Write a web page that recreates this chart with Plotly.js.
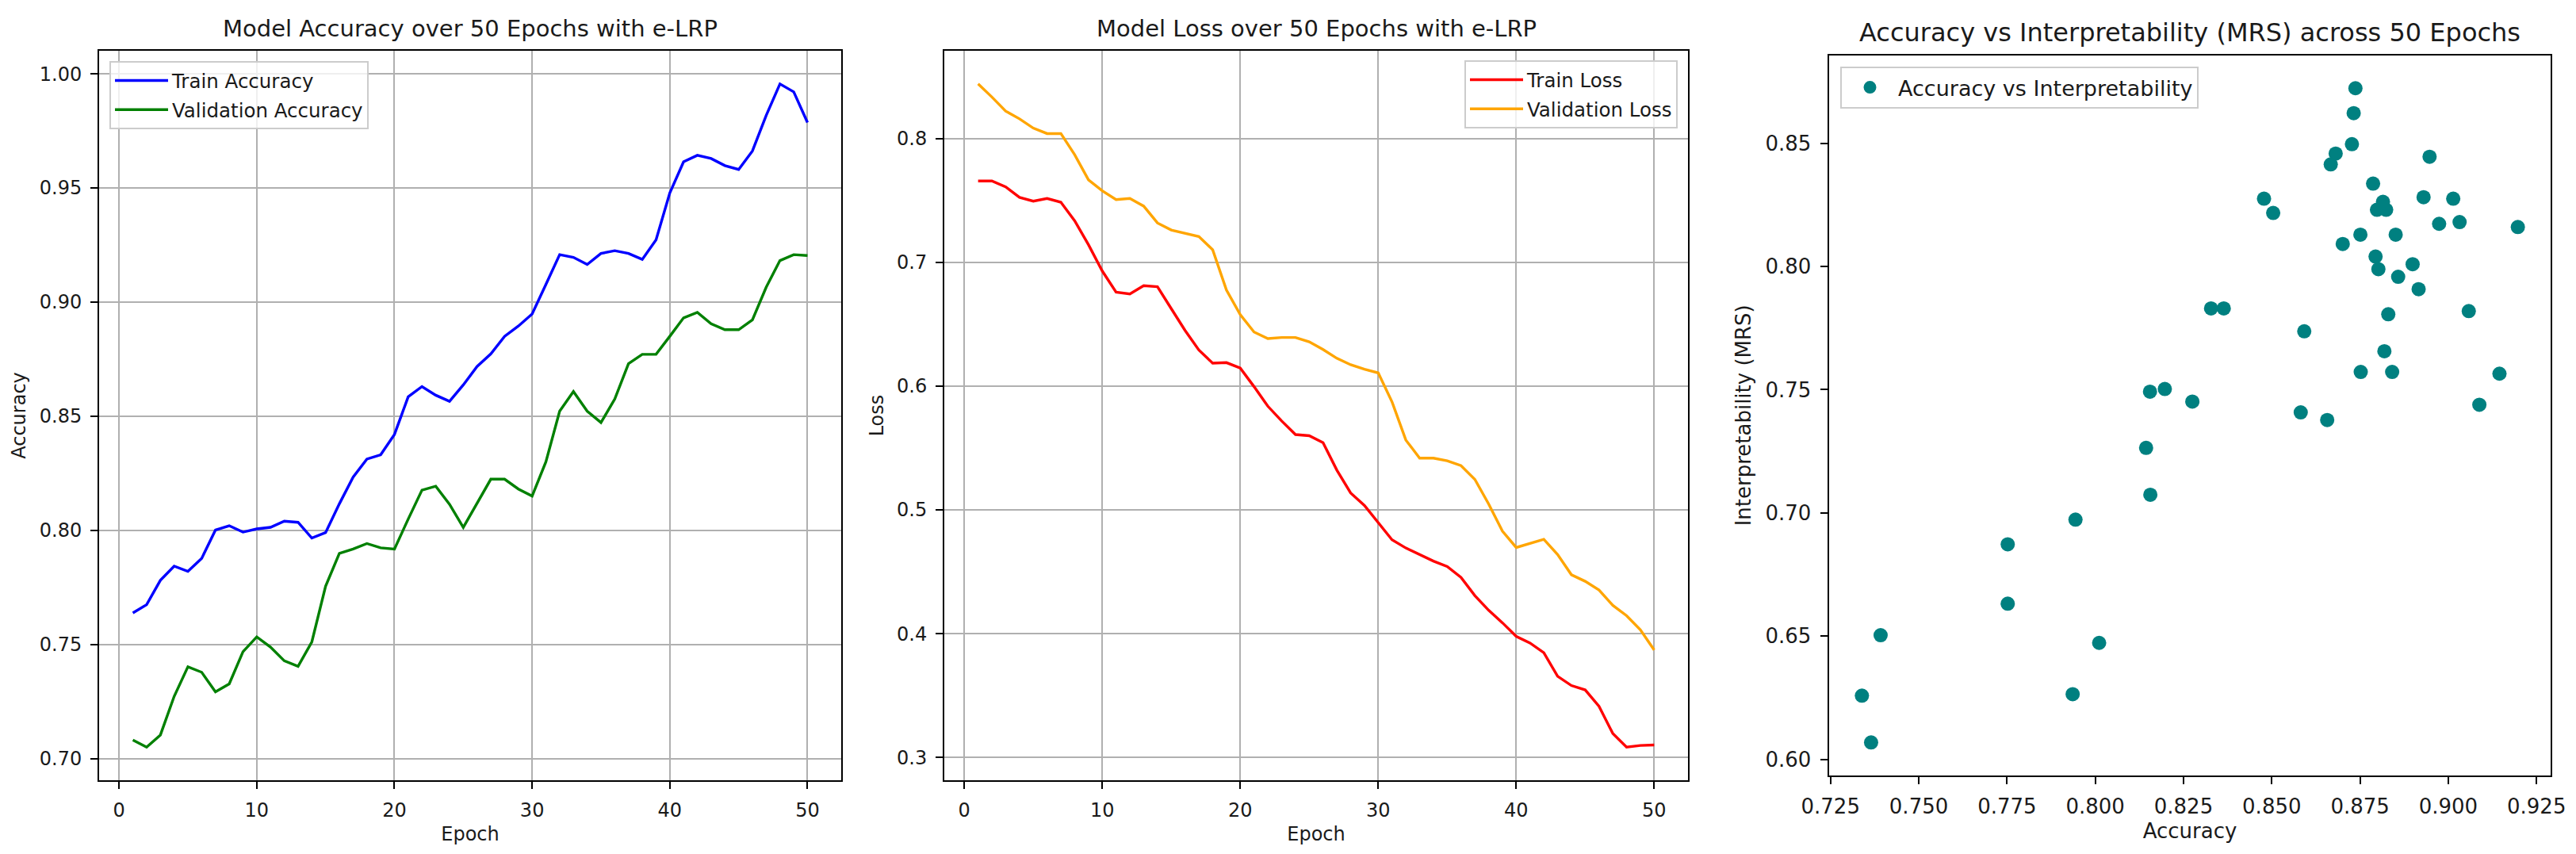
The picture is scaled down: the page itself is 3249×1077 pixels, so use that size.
<!DOCTYPE html>
<html>
<head>
<meta charset="utf-8">
<script src="https://cdn.plot.ly/plotly-3.0.1.min.js"></script>
<style>html,body{margin:0;padding:0;background:#fff;}#chart{width:3249px;height:1077px;}</style>
</head>
<body>
<div id="chart"></div>
<script>
const epochs = Array.from({length: 50}, (_, i) => i + 1);

const trainAccuracy = [0.7638,0.7674,0.7781,0.7843,0.7820,0.7877,0.8001,0.8020,0.7992,0.8006,
  0.8013,0.8040,0.8035,0.7966,0.7990,0.8116,0.8233,0.8312,0.8331,0.8420,
  0.8585,0.8630,0.8592,0.8565,0.8637,0.8718,0.8773,0.8850,0.8895,0.8948,
  0.9077,0.9208,0.9196,0.9165,0.9213,0.9225,0.9213,0.9187,0.9273,0.9478,
  0.9615,0.9643,0.9629,0.9598,0.9581,0.9662,0.9818,0.9956,0.9921,0.9787];

const valAccuracy = [0.7081,0.7050,0.7103,0.7272,0.7402,0.7378,0.7292,0.7327,0.7468,0.7533,
  0.7488,0.7428,0.7404,0.7511,0.7755,0.7899,0.7918,0.7942,0.7923,0.7918,
  0.8049,0.8176,0.8193,0.8114,0.8013,0.8121,0.8224,0.8224,0.8181,0.8150,
  0.8300,0.8522,0.8608,0.8522,0.8472,0.8575,0.8730,0.8771,0.8771,0.8850,
  0.8931,0.8955,0.8905,0.8879,0.8879,0.8922,0.9065,0.9182,0.9208,0.9204];

const trainLoss = [0.7656,0.7656,0.7608,0.7524,0.7493,0.7515,0.7484,0.7335,0.7141,0.6929,
  0.6758,0.6744,0.6810,0.6802,0.6625,0.6449,0.6291,0.6185,0.6189,0.6145,
  0.5995,0.5837,0.5718,0.5608,0.5599,0.5542,0.5321,0.5136,0.5035,0.4894,
  0.4758,0.4692,0.4639,0.4586,0.4542,0.4454,0.4308,0.4189,0.4088,0.3978,
  0.3925,0.3846,0.3656,0.3581,0.3546,0.3414,0.3194,0.3084,0.3097,0.3101];

const valLoss = [0.8440,0.8334,0.8220,0.8158,0.8083,0.8039,0.8039,0.7868,0.7665,0.7577,
  0.7506,0.7515,0.7453,0.7317,0.7260,0.7233,0.7207,0.7101,0.6775,0.6577,
  0.6436,0.6383,0.6392,0.6392,0.6357,0.6295,0.6224,0.6172,0.6136,0.6106,
  0.5872,0.5564,0.5418,0.5418,0.5396,0.5357,0.5247,0.5048,0.4828,0.4696,
  0.4727,0.4762,0.4639,0.4476,0.4423,0.4352,0.4229,0.4145,0.4031,0.3868];

const scatterAccuracy = [0.8737,0.8732,0.8727,0.8681,0.8667,0.8947,0.8787,0.8478,0.8504,0.8930,
  0.9014,0.8815,0.8798,0.8824,0.8974,0.9032,0.9197,0.8751,0.8851,0.8701,
  0.8794,0.8802,0.8899,0.8858,0.8916,0.8328,0.8364,0.8830,0.9058,0.8592,
  0.8819,0.8752,0.8841,0.9145,0.8155,0.8197,0.8275,0.8582,0.8657,0.9088,
  0.8144,0.8156,0.7944,0.7752,0.7752,0.7392,0.8011,0.7339,0.7936,0.7365];

const scatterMRS = [0.8723,0.8622,0.8496,0.8458,0.8414,0.8445,0.8336,0.8275,0.8217,0.8281,
  0.8275,0.8262,0.8230,0.8230,0.8173,0.8180,0.8160,0.8129,0.8129,0.8091,
  0.8040,0.7989,0.8009,0.7958,0.7908,0.7830,0.7830,0.7806,0.7819,0.7737,
  0.7656,0.7572,0.7572,0.7565,0.7492,0.7503,0.7452,0.7408,0.7377,0.7439,
  0.7264,0.7074,0.6973,0.6873,0.6632,0.6504,0.6473,0.6259,0.6265,0.6069];

const titles = ['Model Accuracy over 50 Epochs with e-LRP',
                'Model Loss over 50 Epochs with e-LRP',
                'Accuracy vs Interpretability (MRS) across 50 Epochs'];

// matplotlib-like 5% auto margins
function mplRange(arrs) {
  const all = [].concat(...arrs);
  const lo = Math.min(...all), hi = Math.max(...all);
  const m = (hi - lo) * 0.05;
  return [lo - m, hi + m];
}

const FONT = 'DejaVu Sans, Liberation Sans, sans-serif';
const TXT = '#1a1a1a';
const W = 3249, H = 1077;

function axisBase(fs, tl) {
  return {
    showline: true, mirror: true, linecolor: '#000', linewidth: 2,
    ticks: 'outside', ticklen: tl, tickwidth: 2, tickcolor: '#000',
    zeroline: false, automargin: false,
    tickfont: {family: FONT, size: fs, color: TXT},
    ticklabelstandoff: 6
  };
}
const gridOn = {showgrid: true, gridcolor: '#b0b0b0', gridwidth: 2};
const gridOff = {showgrid: false};

const dom1 = [125 / W, 1061 / W];
const dom2 = [1191 / W, 2129 / W];
const dom3 = [2307 / W, 3217 / W];
const ydom12 = [1 - 984 / H, 1 - 64 / H];
const ydom3 = [1 - 977.6 / H, 1 - 70 / H];

const traces = [
  {x: epochs, y: trainAccuracy, type: 'scatter', mode: 'lines', name: 'Train Accuracy',
   line: {color: '#0000ff', width: 3.4}, xaxis: 'x', yaxis: 'y', legend: 'legend', legendgroup: 'a'},
  {x: epochs, y: valAccuracy, type: 'scatter', mode: 'lines', name: 'Validation Accuracy',
   line: {color: '#008000', width: 3.4}, xaxis: 'x', yaxis: 'y', legend: 'legend', legendgroup: 'b'},
  {x: epochs, y: trainLoss, type: 'scatter', mode: 'lines', name: 'Train Loss',
   line: {color: '#ff0000', width: 3.4}, xaxis: 'x2', yaxis: 'y2', legend: 'legend2', legendgroup: 'c'},
  {x: epochs, y: valLoss, type: 'scatter', mode: 'lines', name: 'Validation Loss',
   line: {color: '#ffa500', width: 3.4}, xaxis: 'x2', yaxis: 'y2', legend: 'legend2', legendgroup: 'd'},
  {x: scatterAccuracy, y: scatterMRS, type: 'scatter', mode: 'markers', name: 'Accuracy vs Interpretability',
   marker: {color: '#008080', size: 18}, xaxis: 'x3', yaxis: 'y3', legend: 'legend3', legendgroup: 'e'}
];

const epochRange = [epochs[0] - 0.05 * (epochs[49] - epochs[0]), epochs[49] + 0.05 * (epochs[49] - epochs[0])];

function legendBase(fs, iw) {
  return {
    font: {family: FONT, size: fs, color: TXT},
    bgcolor: 'rgba(255,255,255,0.8)', bordercolor: '#cccccc', borderwidth: 2,
    xref: 'paper', yref: 'paper', yanchor: 'top', traceorder: 'grouped', tracegroupgap: 2,
    itemwidth: iw
  };
}

function axTitle(t, fs, so) {
  return {text: t, font: {family: FONT, size: fs, color: TXT}, standoff: so};
}

const layout = {
  width: W, height: H, autosize: false,
  margin: {l: 0, r: 0, t: 0, b: 0, pad: 0},
  paper_bgcolor: '#fff', plot_bgcolor: '#fff',
  font: {family: FONT, size: 24, color: TXT},
  showlegend: true,
  xaxis: Object.assign(axisBase(24, 9), gridOn, {domain: dom1, anchor: 'y', range: epochRange,
    tickmode: 'linear', tick0: 0, dtick: 10, title: axTitle('Epoch', 24, 8)}),
  yaxis: Object.assign(axisBase(24, 9), gridOn, {domain: ydom12, anchor: 'x', range: mplRange([trainAccuracy, valAccuracy]),
    tickmode: 'linear', tick0: 0.70, dtick: 0.05, tickformat: '.2f', title: axTitle('Accuracy', 24, 10)}),
  xaxis2: Object.assign(axisBase(24, 9), gridOn, {domain: dom2, anchor: 'y2', range: epochRange,
    tickmode: 'linear', tick0: 0, dtick: 10, title: axTitle('Epoch', 24, 8)}),
  yaxis2: Object.assign(axisBase(24, 9), gridOn, {domain: ydom12, anchor: 'x2', range: mplRange([trainLoss, valLoss]),
    tickmode: 'linear', tick0: 0.3, dtick: 0.1, tickformat: '.1f', title: axTitle('Loss', 24, 10)}),
  xaxis3: Object.assign(axisBase(26, 9.5), gridOff, {domain: dom3, anchor: 'y3', range: mplRange([scatterAccuracy]),
    tickmode: 'linear', tick0: 0.725, dtick: 0.025, tickformat: '.3f', title: axTitle('Accuracy', 26, 8)}),
  yaxis3: Object.assign(axisBase(26, 9.5), gridOff, {domain: ydom3, anchor: 'x3', range: mplRange([scatterMRS]),
    tickmode: 'linear', tick0: 0.60, dtick: 0.05, tickformat: '.2f', title: axTitle('Interpretability (MRS)', 26, 10)}),
  legend: Object.assign(legendBase(24.5, 67), {x: 138 / W, xanchor: 'left', y: 1 - 77 / H}),
  legend2: Object.assign(legendBase(24.5, 67), {x: 2116 / W, xanchor: 'right', y: 1 - 76 / H}),
  legend3: Object.assign(legendBase(27, 61), {x: 2321 / W, xanchor: 'left', y: 1 - 84 / H}),
  annotations: [
    {text: titles[0], xref: 'paper', yref: 'paper', x: (dom1[0] + dom1[1]) / 2, y: 1 - 36 / H,
     xanchor: 'center', yanchor: 'middle', showarrow: false, font: {family: FONT, size: 29, color: TXT}},
    {text: titles[1], xref: 'paper', yref: 'paper', x: (dom2[0] + dom2[1]) / 2, y: 1 - 36 / H,
     xanchor: 'center', yanchor: 'middle', showarrow: false, font: {family: FONT, size: 29, color: TXT}},
    {text: titles[2], xref: 'paper', yref: 'paper', x: (dom3[0] + dom3[1]) / 2, y: 1 - 41 / H,
     xanchor: 'center', yanchor: 'middle', showarrow: false, font: {family: FONT, size: 32, color: TXT}}
  ]
};

Plotly.newPlot('chart', traces, layout, {staticPlot: true, displayModeBar: false});
</script>
</body>
</html>
